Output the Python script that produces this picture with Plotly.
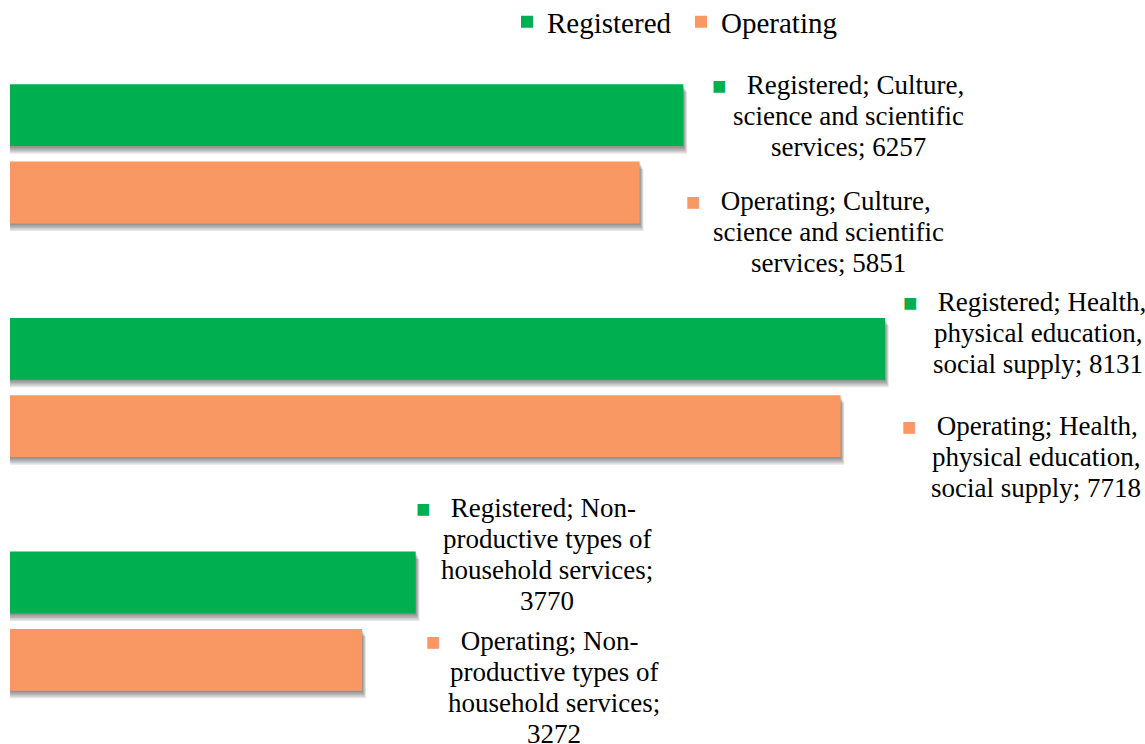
import textwrap
import plotly.graph_objects as go

# ---- data ----
categories = [
    "Culture, science and scientific services",
    "Health, physical education, social supply",
    "Non-productive types of household services",
]
series_names = ["Registered", "Operating"]
registered = [6257, 8131, 3770]
operating = [5851, 7718, 3272]

# ---- styles / layout ----
colors = {"Registered": "#00B050", "Operating": "#FA9864"}
FONT = "Liberation Serif, Times New Roman, serif"
W, H = 1145, 744
ML, MR, MT, MB = 10, 10, 37, 6
PLOT_W = W - ML - MR
PX_PER_UNIT = 0.10761
XMAX = PLOT_W / PX_PER_UNIT
BAR_HALF_PX = 31
BAR_OFF_PX = 38.75
BAR_OFF_CAT = 0.1655
LINE_PX = 31
LABEL_FONT = 27
# label placement offsets (px): horizontal centre from bar end, vertical from bar centre
label_dx = {"Registered": [165, 153, 131], "Operating": [189, 195, 192]}
label_dy = {"Registered": [1, -16, -28], "Operating": [39.5, 31, 27.5]}
first_line_dx = {"Registered": [-10, -13, -21], "Operating": [-20, -16, -22]}

values = {"Registered": registered, "Operating": operating}

fig = go.Figure()
for s in series_names:
    fig.add_trace(go.Bar(
        name=s, y=categories, x=values[s], orientation="h",
        marker=dict(color=colors[s], line=dict(width=0)),
    ))

shapes = []
annotations = []
for si, s in enumerate(series_names):
    sign = -1 if si == 0 else 1
    for ci, cat in enumerate(categories):
        v = values[s][ci]
        # soft drop shadow
        for d in [1.5, 3, 4.5, 6, 7.5]:
            shapes.append(dict(
                type="rect", layer="below", xref="x", yref="y",
                ysizemode="pixel", yanchor=ci + sign * BAR_OFF_CAT,
                x0=0, x1=v + (d * 0.5) / PX_PER_UNIT,
                y0=-BAR_HALF_PX - d, y1=BAR_HALF_PX - d,
                fillcolor="rgba(0,0,0,0.10)", line=dict(width=0),
            ))
        # data label
        lines = textwrap.wrap(f"{s}; {cat}; {v}", width=22)
        n = len(lines)
        for k, ln in enumerate(lines):
            down = sign * BAR_OFF_PX + label_dy[s][ci] + (k - (n - 1) / 2) * LINE_PX
            txt = ln
            dx = label_dx[s][ci]
            if k == 0:
                txt = (f"<span style='color:{colors[s]};font-size:24px'>\u25A0</span>"
                       f"\u00a0\u00a0\u00a0{ln}")
                dx += first_line_dx[s][ci]
            annotations.append(dict(
                x=v, y=cat, xref="x", yref="y", text=txt, showarrow=False,
                xanchor="center", yanchor="middle", xshift=dx, yshift=-down,
                font=dict(family=FONT, size=LABEL_FONT, color="#000000"),
            ))

fig.update_layout(
    width=W, height=H,
    margin=dict(l=ML, r=MR, t=MT, b=MB, pad=0, autoexpand=False),
    paper_bgcolor="white", plot_bgcolor="white",
    barmode="group", bargap=0.338, bargroupgap=0.2,
    xaxis=dict(range=[0, XMAX], visible=False),
    yaxis=dict(range=[2.5, -0.5], visible=False,
               categoryorder="array", categoryarray=categories),
    showlegend=True,
    legend=dict(orientation="h", xref="container", yref="container",
                x=507 / W, xanchor="left",
                y=1 - 22 / H, yanchor="middle",
                font=dict(family=FONT, size=29, color="#000000"),
                entrywidth=129, entrywidthmode="pixels",
                bgcolor="rgba(0,0,0,0)"),
    shapes=shapes, annotations=annotations,
    font=dict(family=FONT),
)

fig.write_html("out.html", config={"displayModeBar": False},
               post_script="document.body.style.margin='0';")
